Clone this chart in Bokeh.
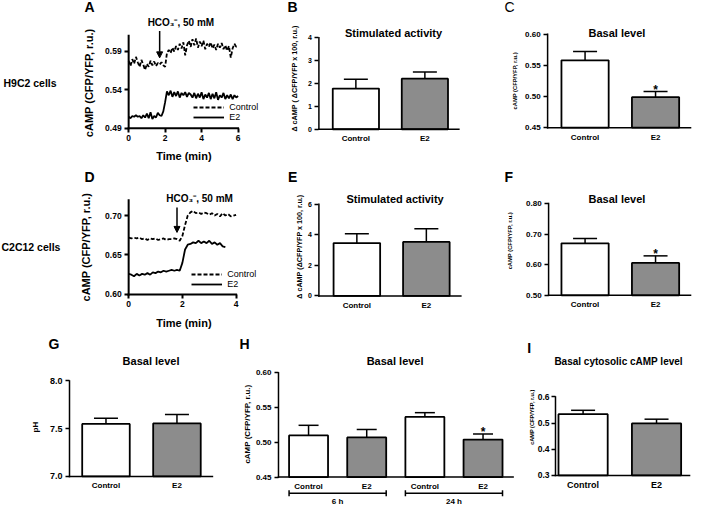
import math
from bokeh.plotting import figure
from bokeh.models import (Range1d, FixedTicker, PrintfTickFormatter, Label, Arrow, LinearAxis,
                          NormalHead, TeeHead, Whisker, ColumnDataSource, Legend, LegendItem)
from bokeh.embed import file_html
from bokeh.resources import INLINE
from bokeh.core.properties import value

FONT = "Liberation Sans"

# ---------------- data ----------------
# Panel A: H9C2 time course
A_TIME = [0.0, 0.1, 0.2, 0.3, 0.4, 0.5, 0.6, 0.7, 0.8, 0.9,
          1.0, 1.1, 1.2, 1.3, 1.4, 1.5, 1.6, 1.7, 1.8, 1.9,
          2.0, 2.1, 2.2, 2.3, 2.4, 2.5, 2.6, 2.7, 2.8, 2.9,
          3.0, 3.1, 3.2, 3.3, 3.4, 3.5, 3.6, 3.7, 3.8, 3.9,
          4.0, 4.1, 4.2, 4.3, 4.4, 4.5, 4.6, 4.7, 4.8, 4.9,
          5.0, 5.1, 5.2, 5.3, 5.4, 5.5, 5.6, 5.7, 5.8, 5.9,
          6.0]
A_CONTROL = [0.578, 0.571, 0.580, 0.574, 0.583, 0.576, 0.570, 0.579, 0.573, 0.566,
             0.574, 0.570, 0.578, 0.572, 0.577, 0.571, 0.575, 0.573, 0.576, 0.572,
             0.570, 0.588, 0.592, 0.588, 0.595, 0.590, 0.597, 0.592, 0.600, 0.594,
             0.602, 0.585, 0.598, 0.604, 0.596, 0.606, 0.598, 0.607, 0.595, 0.603,
             0.597, 0.604, 0.593, 0.600, 0.596, 0.602, 0.594, 0.599, 0.592, 0.600,
             0.595, 0.601, 0.593, 0.598, 0.591, 0.597, 0.582, 0.594, 0.600, 0.596,
             0.598]
A_E2 = [0.505, 0.503, 0.506, 0.505, 0.507, 0.505, 0.506, 0.503, 0.507, 0.504,
        0.509, 0.503, 0.511, 0.502, 0.506, 0.504, 0.510, 0.507, 0.506, 0.512,
        0.524, 0.538, 0.533, 0.539, 0.531, 0.537, 0.532, 0.538, 0.530, 0.536,
        0.533, 0.537, 0.531, 0.536, 0.534, 0.530, 0.536, 0.529, 0.535, 0.530,
        0.537, 0.528, 0.534, 0.530, 0.536, 0.528, 0.535, 0.529, 0.537, 0.527,
        0.533, 0.530, 0.536, 0.528, 0.533, 0.529, 0.534, 0.528, 0.533, 0.530,
        0.532]
A_STIM = 1.7
A_XTICKS = [0, 2, 4, 6]
A_YTICKS = [0.49, 0.54, 0.59]

# Panel D: C2C12 time course
D_TIME_CONTROL = [0.0, 0.1, 0.2, 0.3, 0.4, 0.5, 0.6, 0.7, 0.8, 0.9,
                  1.0, 1.1, 1.2, 1.3, 1.4, 1.5, 1.6, 1.7, 1.8, 1.9,
                  2.0, 2.1, 2.2, 2.3, 2.4, 2.5, 2.6, 2.7, 2.8, 2.9,
                  3.0, 3.1, 3.2, 3.3, 3.4, 3.5, 3.6, 3.7, 3.8, 3.9,
                  4.0]
D_CONTROL = [0.672, 0.671, 0.672, 0.671, 0.672, 0.670, 0.671, 0.669, 0.671, 0.670,
             0.671, 0.669, 0.670, 0.671, 0.669, 0.670, 0.670, 0.671, 0.670, 0.668,
             0.674, 0.688, 0.700, 0.704, 0.706, 0.703, 0.704, 0.702, 0.704, 0.703,
             0.701, 0.703, 0.700, 0.702, 0.699, 0.703, 0.700, 0.702, 0.699, 0.700,
             0.701]
D_TIME_E2 = [0.0, 0.1, 0.2, 0.3, 0.4, 0.5, 0.6, 0.7, 0.8, 0.9,
             1.0, 1.1, 1.2, 1.3, 1.4, 1.5, 1.6, 1.7, 1.8, 1.9,
             2.0, 2.1, 2.2, 2.3, 2.4, 2.5, 2.6, 2.7, 2.8, 2.9,
             3.0, 3.1, 3.2, 3.3, 3.4, 3.5, 3.6]
D_E2 = [0.626, 0.625, 0.623, 0.626, 0.624, 0.626, 0.625, 0.627, 0.625, 0.628,
        0.627, 0.629, 0.628, 0.630, 0.629, 0.630, 0.631, 0.630, 0.631, 0.630,
        0.640, 0.657, 0.663, 0.664, 0.666, 0.665, 0.668, 0.665, 0.667, 0.665,
        0.668, 0.664, 0.666, 0.663, 0.665, 0.661, 0.660]
D_STIM = 1.8
D_XTICKS = [0, 2, 4]
D_YTICKS = [0.60, 0.65, 0.70]

# Bar panels
CATS = ["Control", "E2"]
B_MEAN = [1.78, 2.21]
B_ERR = [0.41, 0.29]
B_SIG = [False, False]
B_YTICKS = [0, 1, 2, 3, 4]

C_MEAN = [0.558, 0.499]
C_ERR = [0.014, 0.009]
C_SIG = [False, True]
C_YTICKS = [0.45, 0.50, 0.55, 0.60]

E_MEAN = [3.46, 3.53]
E_ERR = [0.60, 0.87]
E_SIG = [False, False]
E_YTICKS = [0, 2, 4, 6]

F_MEAN = [0.670, 0.606]
F_ERR = [0.016, 0.023]
F_SIG = [False, True]
F_YTICKS = [0.50, 0.60, 0.70, 0.80]

G_MEAN = [7.55, 7.555]
G_ERR = [0.06, 0.095]
G_SIG = [False, False]
G_YTICKS = [7.0, 7.5, 8.0]

H_CATS = ["Control", "E2", "Control", "E2"]
H_GROUPS = ["6 h", "24 h"]
H_GROUP_OF = [0, 0, 1, 1]
H_MEAN = [0.510, 0.507, 0.5365, 0.504]
H_ERR = [0.0145, 0.0115, 0.0062, 0.008]
H_SIG = [False, False, False, True]
H_YTICKS = [0.45, 0.50, 0.55, 0.60]

I_MEAN = [0.534, 0.499]
I_ERR = [0.015, 0.016]
I_SIG = [False, False]
I_YTICKS = [0.3, 0.4, 0.5, 0.6]

FILL = {"Control": "white", "E2": "#8c8c8c"}
BAR_W = 0.67

# ---------------- canvas ----------------
W, H = 693, 506
SX = W / 703.0
SY = H / 516.0


def cx(x):
    return (x - 3.0) * SX


def cy(y):
    return (y - 3.0) * SY


p = figure(width=W, height=H, x_range=Range1d(0, W), y_range=Range1d(H, 0),
           x_axis_location=None, y_axis_location=None,
           output_backend="svg", toolbar_location=None, tools="")
p.min_border_left = 0
p.min_border_right = 0
p.min_border_top = 0
p.min_border_bottom = 0
p.outline_line_color = None
p.background_fill_color = "white"
p.border_fill_color = "white"
p.grid.visible = False
for g in list(p.center):
    p.center.remove(g)


def text(xr, yr, s, size, bold=True, align="center", vertical=False):
    p.add_layout(Label(x=cx(xr), y=cy(yr), text=s, text_font=FONT, text_font_size=size,
                       text_font_style="bold" if bold else "normal",
                       angle=math.pi / 2 if vertical else 0,
                       text_align=align, text_baseline="middle", text_color="black"))


class Panel:
    def __init__(self, name, frame, xcal, ycal):
        self.xn, self.yn = name + "_x", name + "_y"
        (xv0, xr0), (xv1, xr1) = xcal
        (yv0, yr0), (yv1, yr1) = ycal
        self.kx = (xv1 - xv0) / (cx(xr1) - cx(xr0))
        self.ky = (yv1 - yv0) / (cy(yr1) - cy(yr0))
        self.xv0, self.xc0 = xv0, cx(xr0)
        self.yv0, self.yc0 = yv0, cy(yr0)
        self.L, self.T, self.R, self.B = frame
        p.extra_x_ranges[self.xn] = Range1d(self.cdx(0), self.cdx(W))
        p.extra_y_ranges[self.yn] = Range1d(self.cdy(H), self.cdy(0))

    def cdx(self, c):
        return self.xv0 + (c - self.xc0) * self.kx

    def cdy(self, c):
        return self.yv0 + (c - self.yc0) * self.ky

    def dx(self, xr):
        return self.cdx(cx(xr))

    def dy(self, yr):
        return self.cdy(cy(yr))

    def kw(self):
        return dict(x_range_name=self.xn, y_range_name=self.yn)


def style_axis(ax, lw, tick_size, tick_standoff=3, tick_out=4):
    ax.axis_line_color = None
    ax.major_tick_line_width = lw
    ax.major_tick_line_color = "black"
    ax.major_tick_out = tick_out
    ax.major_tick_in = 0
    ax.minor_tick_line_color = None
    ax.major_label_text_font = FONT
    ax.major_label_text_font_size = tick_size
    ax.major_label_text_font_style = "bold"
    ax.major_label_text_color = "black"
    ax.major_label_standoff = tick_standoff


def add_axes(pn, xticks, xlabels, yticks, yfmt, lw, xtick_size, ytick_size,
             xtick_out, xtick_standoff, ytick_standoff=3):
    x_lo, x_hi = pn.dx(pn.L), pn.dx(pn.R)
    y_lo, y_hi = pn.dy(pn.B), pn.dy(pn.T)
    # axis rules
    p.segment(x0=[x_lo, x_lo], y0=[y_lo, y_lo], x1=[x_hi, x_lo], y1=[y_lo, y_hi],
              line_color="black", line_width=lw, line_cap="square", **pn.kw())
    xa = LinearAxis(fixed_location=y_lo, bounds=(x_lo, x_hi),
                    ticker=FixedTicker(ticks=xticks), **pn.kw())
    if xlabels is not None:
        xa.major_label_overrides = {t: s for t, s in zip(xticks, xlabels)}
    style_axis(xa, lw, xtick_size, tick_standoff=xtick_standoff, tick_out=xtick_out)
    if xtick_out == 0:
        xa.major_tick_line_color = None
    p.add_layout(xa, "below")
    ya = LinearAxis(fixed_location=x_lo, bounds=(y_lo, y_hi),
                    ticker=FixedTicker(ticks=yticks), **pn.kw())
    if yfmt:
        ya.formatter = PrintfTickFormatter(format=yfmt)
    style_axis(ya, lw, ytick_size, tick_standoff=ytick_standoff)
    p.add_layout(ya, "left")


def trace_panel(pn, t_c, v_c, t_e, v_e, xticks, yticks, ylabel, ylab_pos, xlab_pos, stim,
                arrow_top, arrow_tip, hco_pos, leg_pos, letter, letter_pos, cell, cell_pos):
    r_c = p.line(t_c, v_c, line_color="black", line_width=1.8, line_dash="4 2", **pn.kw())
    r_e = p.line(t_e, v_e, line_color="black", line_width=1.8, **pn.kw())
    add_axes(pn, xticks, None, yticks, "%.2f", 2, "8.5px", "8.5px", 4, 3)
    text(ylab_pos[0], ylab_pos[1], ylabel, "11px", vertical=True)
    text(xlab_pos[0], xlab_pos[1], "Time (min)", "11px")
    leg = Legend(items=[LegendItem(label="Control", renderers=[r_c]),
                        LegendItem(label="E2", renderers=[r_e])],
                 location=(cx(leg_pos[0]), H - cy(leg_pos[1])),
                 glyph_width=31, glyph_height=10, label_height=10, label_width=10,
                 label_standoff=5, spacing=0, padding=0, margin=0,
                 border_line_color=None, background_fill_alpha=0,
                 label_text_font=FONT, label_text_font_size="9px",
                 label_text_color="black")
    p.add_layout(leg)
    p.add_layout(Arrow(x_start=stim, y_start=pn.dy(arrow_top), x_end=stim, y_end=pn.dy(arrow_tip),
                       line_width=1.5, line_color="black",
                       end=NormalHead(size=6, fill_color="black", line_color="black", line_width=1),
                       **pn.kw()))
    text(hco_pos[0], hco_pos[1], "HCO\u2083\u207b, 50 mM", "10px")
    text(letter_pos[0], letter_pos[1], letter, "14px")
    text(cell_pos[0], cell_pos[1], cell, "10.5px", align="left")


def bar_panel(pn, cats, means, errs, sig, yticks, yfmt, ylabel, ylab_size, ylab_pos,
              ytick_size, cat_size, cap, title, title_pos, title_size, letter, letter_pos,
              letter_bold=True, ytick_standoff=3):
    idx = list(range(len(cats)))
    base = yticks[0]
    hi = [m + e for m, e in zip(means, errs)]
    src = ColumnDataSource(dict(x=idx, top=means, bottom=[base] * len(cats), hi=hi,
                                fill=[FILL[c] for c in cats]))
    p.add_layout(Whisker(source=src, base="x", lower="top", upper="hi", dimension="height",
                         line_width=1.5, line_color="black",
                         upper_head=TeeHead(size=cap, line_width=1.5, line_color="black"),
                         lower_head=None, **pn.kw()))
    p.vbar(x="x", top="top", bottom="bottom", width=BAR_W, fill_color="fill",
           line_color="black", line_width=1.8, source=src, **pn.kw())
    sx = [i for i in idx if sig[i]]
    sy = [hi[i] for i in idx if sig[i]]
    if sx:
        p.text(x=sx, y=sy, text=["*"] * len(sx), text_align="center", text_baseline="alphabetic",
               text_font=value(FONT), text_font_size="12px", text_font_style="bold",
               text_color="black", y_offset=-2, **pn.kw())
    add_axes(pn, idx, cats, yticks, yfmt, 1.5, cat_size, ytick_size, 0, 5,
             ytick_standoff=ytick_standoff)
    text(ylab_pos[0], ylab_pos[1], ylabel, ylab_size, vertical=True)
    text(title_pos[0], title_pos[1], title, title_size)
    text(letter_pos[0], letter_pos[1], letter, "14px", bold=letter_bold)


# ---------------- row 1 ----------------
PA = Panel("A", (133, 39, 244, 133.3), ((0, 133), (6, 244)), ((0.49, 133.3), (0.59, 55)))
trace_panel(PA, A_TIME, A_CONTROL, A_TIME, A_E2, A_XTICKS, A_YTICKS, "cAMP (CFP/YFP, r.u.)",
            (93, 87), (189, 162), A_STIM, 34, 61.5, (186, 25.5), (199, 127.7),
            "A", (93.3, 9.5), "H9C2 cells", (6, 87.3))

PB = Panel("B", (326, 41, 468, 134.3), ((0, 363.5), (1, 433.5)), ((0, 134.3), (4, 41)))
bar_panel(PB, CATS, B_MEAN, B_ERR, B_SIG, B_YTICKS, None,
          "\u0394 cAMP ( \u0394CFP/YFP x 100, r.u.)", "7.2px", (301.7, 82.5), "7px", "8px", 24,
          "Stimulated activity", (401.7, 36), "11px", "B", (299.3, 10))

PC = Panel("C", (558, 37.3, 703, 132.7), ((0, 596), (1, 667.5)), ((0.45, 132.7), (0.60, 37.3)))
bar_panel(PC, CATS, C_MEAN, C_ERR, C_SIG, C_YTICKS, "%.2f",
          "cAMP (CFP/YFP, r.u.)", "5.8px", (525, 85), "8px", "8px", 24,
          "Basal level", (628.3, 36), "11px", "C", (519.3, 10), letter_bold=False)

# ---------------- row 2 ----------------
PD = Panel("D", (133, 206.7, 242, 302.7), ((0, 133), (2, 187.5)), ((0.60, 302.7), (0.70, 222.3)))
trace_panel(PD, D_TIME_CONTROL, D_CONTROL, D_TIME_E2, D_E2, D_XTICKS, D_YTICKS,
            "cAMP  (CFP/YFP, r.u.)", (90, 253), (189, 332), D_STIM, 214, 239.5, (205, 205),
            (197, 297.7), "D", (93.3, 183), "C2C12 cells", (4, 254))

PE = Panel("E", (326, 210.7, 470, 304.3), ((0, 364.5), (1, 435)), ((0, 304.3), (6, 210.7)))
bar_panel(PE, CATS, E_MEAN, E_ERR, E_SIG, E_YTICKS, None,
          "\u0394 cAMP (\u0394CFP/YFP x 100, r.u.)", "7.2px", (306.7, 254), "7px", "8px", 24,
          "Stimulated activity", (403.3, 205), "11px", "E", (299.3, 183))

PF = Panel("F", (559, 210, 703, 303.7), ((0, 596), (1, 667.5)), ((0.50, 303.7), (0.80, 210)))
bar_panel(PF, CATS, F_MEAN, F_ERR, F_SIG, F_YTICKS, "%.2f",
          "cAMP (CFP/YFP, r.u.)", "5.8px", (520, 248), "8px", "8px", 24,
          "Basal level", (628.3, 205), "11px", "F", (518.5, 183))

# ---------------- row 3 ----------------
PG = Panel("G", (73, 391, 218, 488.3), ((0, 110), (1, 182)), ((7.0, 488.3), (8.0, 391)))
bar_panel(PG, CATS, G_MEAN, G_ERR, G_SIG, G_YTICKS, "%.1f",
          "pH", "8px", (38.3, 438), "9px", "8px", 24,
          "Basal level", (155.7, 370.7), "11px", "G", (57.3, 353.3))

PH = Panel("H", (285, 382.7, 523, 489), ((0, 315.5), (3, 492.5)), ((0.45, 489), (0.60, 382.7)))
bar_panel(PH, H_CATS, H_MEAN, H_ERR, H_SIG, H_YTICKS, "%.2f",
          "cAMP (CFP/YFP, r.u.)", "8px", (253.3, 435), "8px", "8px", 20,
          "Basal level", (403.3, 370.7), "11px", "H", (250.7, 353.3))
for g, gname in enumerate(H_GROUPS):
    members = [i for i, k in enumerate(H_GROUP_OF) if k == g]
    x0 = min(members) - BAR_W / 2
    x1 = max(members) + BAR_W / 2
    yb = PH.dy(505.5)
    p.add_layout(Arrow(x_start=x0, y_start=yb, x_end=x1, y_end=yb, line_width=1.5,
                       line_color="black",
                       start=TeeHead(size=6, line_width=1.5, line_color="black"),
                       end=TeeHead(size=6, line_width=1.5, line_color="black"), **PH.kw()))
    p.add_layout(Label(x=(x0 + x1) / 2, y=PH.dy(514.0), text=gname, text_font=FONT,
                       text_font_size="8px", text_font_style="bold", text_align="center",
                       text_baseline="middle", text_color="black", **PH.kw()))

PI = Panel("I", (566, 407.3, 702, 487.3), ((0, 594), (1, 668.5)), ((0.3, 487.3), (0.6, 407.3)))
bar_panel(PI, CATS, I_MEAN, I_ERR, I_SIG, I_YTICKS, "%.1f",
          "cAMP (CFP/YFP, r.u.)", "5.6px", (541.7, 428), "8.5px", "9px", 24,
          "Basal cytosolic cAMP level", (630, 370.7), "10px", "I", (539.3, 357),
          ytick_standoff=2)

open("out.html", "w").write(file_html(p, INLINE))
